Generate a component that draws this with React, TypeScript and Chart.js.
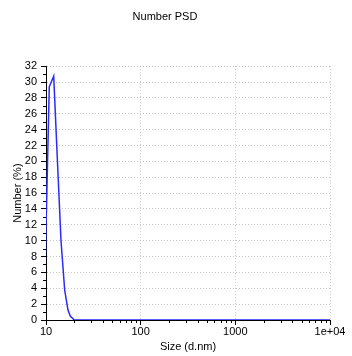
import React, { useEffect, useRef } from "react";
import { Chart, registerables } from "chart.js";

Chart.register(...registerables);

const sizes = [9.5, 10.83, 12.06, 13.07, 14.4, 15.76, 17.07, 18.06, 19.9, 30, 100, 1000, 10000];
const numberPct = [0, 29.4, 30.75, 21.25, 10, 3.75, 1.25, 0.5, 0, 0, 0, 0, 0];
const xMajorTicks = [10, 100, 1000, 10000];
const xTickLabels = ["10", "100", "1000", "1e+04"];
const xMinorTicks = [20, 30, 40, 50, 60, 70, 80, 90, 200, 300, 400, 500, 600, 700, 800, 900, 2000, 3000, 4000, 5000, 6000, 7000, 8000, 9000];
const yMinorTicks = [1, 3, 5, 7, 9, 11, 13, 15, 17, 19, 21, 23, 25, 27, 29, 31];

const FONT = "'Liberation Sans', Arial, sans-serif";

const minorTicksPlugin = {
  id: "minorTicks",
  afterDraw(chart: any) {
    const { ctx, chartArea } = chart;
    const xs = chart.scales.x;
    const ys = chart.scales.y;
    ctx.save();
    ctx.strokeStyle = "#000";
    ctx.lineWidth = 1;
    ctx.beginPath();
    for (const v of yMinorTicks) {
      const p = Math.round(ys.getPixelForValue(v)) + 0.5;
      ctx.moveTo(chartArea.left - 3, p);
      ctx.lineTo(chartArea.left, p);
    }
    for (const v of xMinorTicks) {
      const p = Math.round(xs.getPixelForValue(v)) + 0.5;
      ctx.moveTo(p, chartArea.bottom);
      ctx.lineTo(p, chartArea.bottom + 3);
    }
    ctx.stroke();
    ctx.restore();
  },
};

export default function App() {
  const ref = useRef<HTMLCanvasElement | null>(null);
  useEffect(() => {
    document.body.style.margin = "0";
    const canvas = ref.current!;
    const chart = new Chart(canvas, {
      type: "line",
      data: {
        datasets: [
          {
            data: sizes.map((s, i) => ({ x: s, y: numberPct[i] })),
            borderColor: "#2a2aff",
            borderWidth: 1.5,
            pointRadius: 0,
            tension: 0,
            fill: false,
          },
        ],
      },
      options: {
        animation: false,
        responsive: false,
        devicePixelRatio: 1,
        layout: { padding: { left: 0, right: 22, top: 0, bottom: 2 } },
        plugins: {
          legend: { display: false },
          tooltip: { enabled: false },
          title: {
            display: true,
            text: "Number PSD",
            color: "#000",
            font: { family: FONT, size: 11, weight: "normal" },
            padding: { top: 10, bottom: 43 },
          },
        },
        scales: {
          x: {
            type: "logarithmic",
            min: 10,
            max: 10000,
            afterBuildTicks(scale: any) {
              scale.ticks = xMajorTicks.map((v) => ({ value: v, major: true }));
            },
            afterFit(scale: any) {
              scale.height = 34;
            },
            ticks: {
              color: "#000",
              font: { family: FONT, size: 11 },
              padding: 0,
              maxRotation: 0,
              autoSkip: false,
              callback(_v: any, i: number) {
                return xTickLabels[i];
              },
            },
            grid: {
              color: "#c8c8c8",
              tickColor: "#000",
              tickLength: 5,
              lineWidth: 1,
            },
            border: { display: true, color: "#000", width: 1, dash: [1, 2] },
            title: {
              display: true,
              text: "Size (d.nm)",
              color: "#000",
              font: { family: FONT, size: 11 },
              padding: { top: 2, bottom: 0 },
            },
          },
          y: {
            min: 0,
            max: 32,
            afterFit(scale: any) {
              scale.width = 46;
            },
            ticks: {
              stepSize: 2,
              color: "#000",
              font: { family: FONT, size: 11 },
              padding: 4,
              autoSkip: false,
            },
            grid: {
              color: "#c8c8c8",
              tickColor: "#000",
              tickLength: 5,
              lineWidth: 1,
            },
            border: { display: true, color: "#000", width: 1, dash: [1, 2] },
            title: {
              display: true,
              text: "Number (%)",
              color: "#000",
              font: { family: FONT, size: 11 },
              padding: { top: 11, bottom: 0 },
            },
          },
        },
      },
      plugins: [minorTicksPlugin],
    } as any);
    return () => chart.destroy();
  }, []);
  return (
    <div style={{ width: 352, height: 356, background: "#fff" }}>
      <canvas ref={ref} width={352} height={356} style={{ display: "block" }} />
    </div>
  );
}
